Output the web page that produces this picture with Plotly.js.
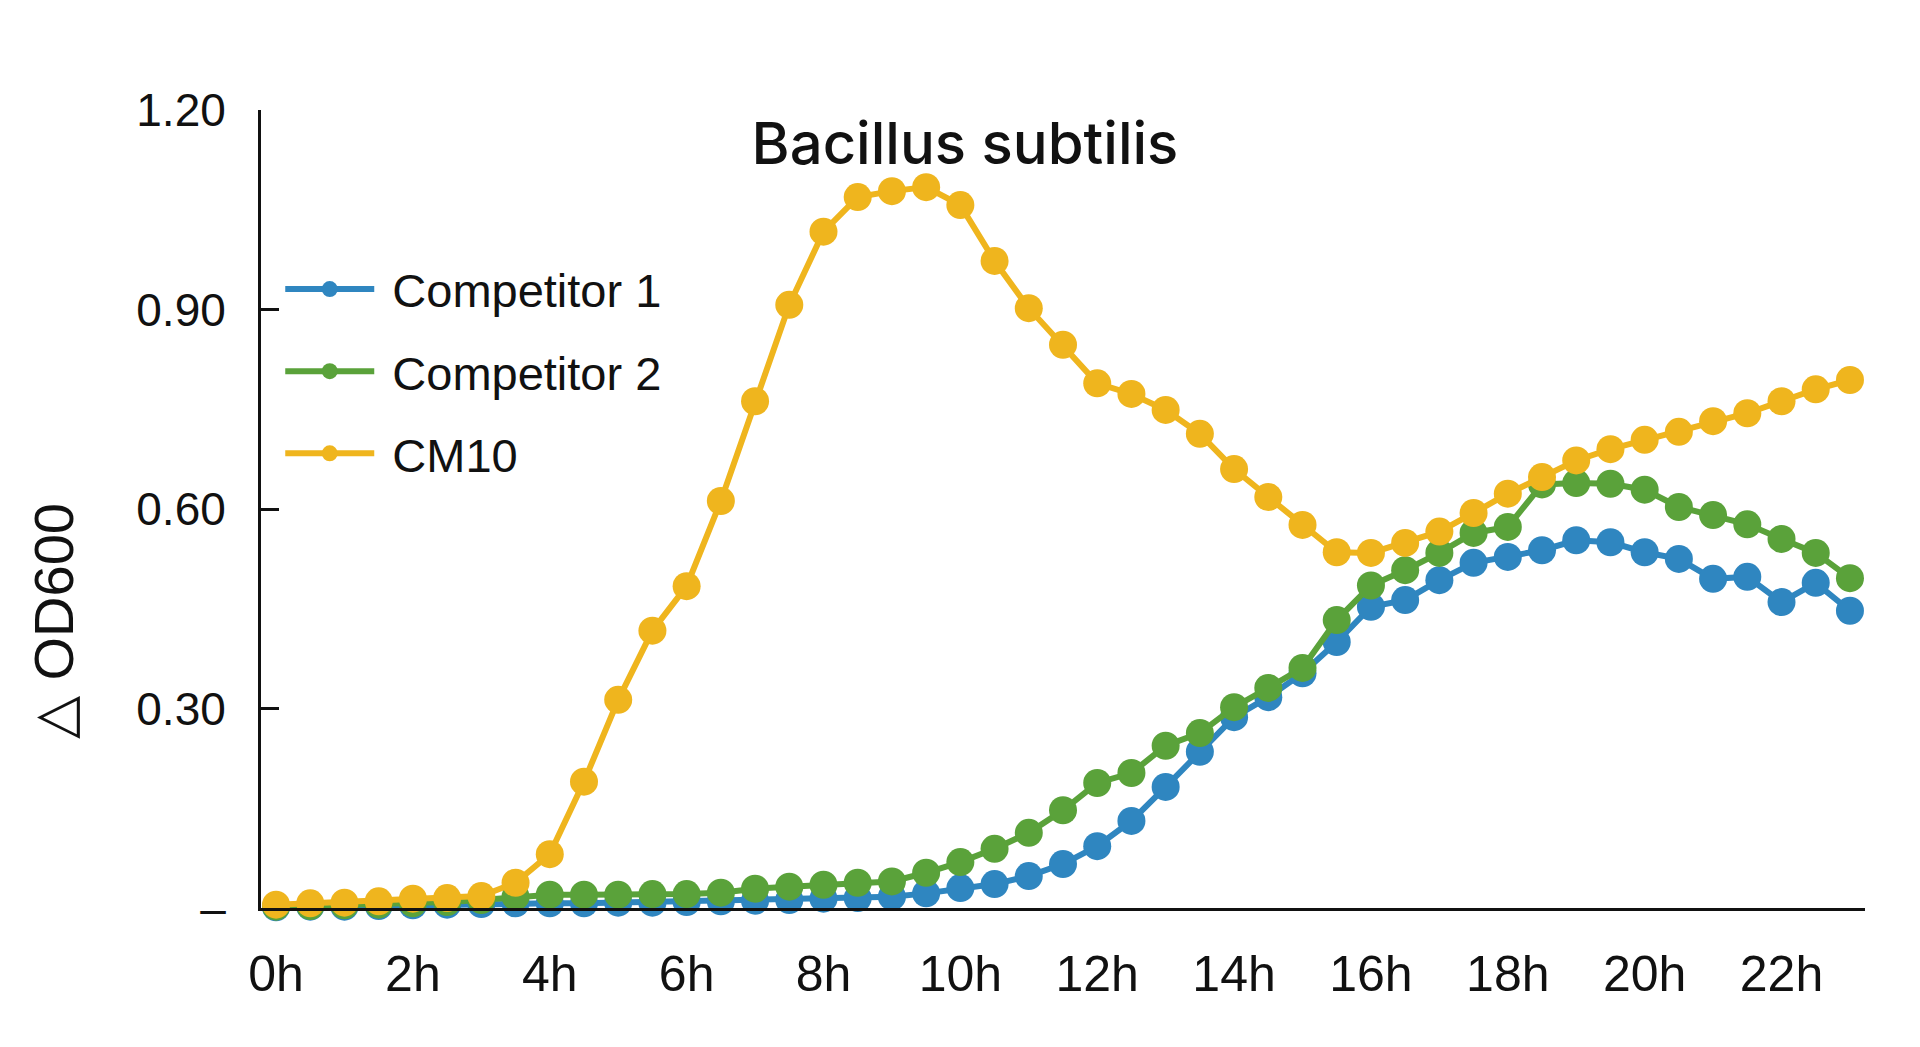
<!DOCTYPE html>
<html>
<head>
<meta charset="utf-8">
<script src="https://cdn.plot.ly/plotly-3.0.1.min.js"></script>
<style>
  html, body { margin: 0; padding: 0; background: #fff; }
  #mainPlot { width: 1920px; height: 1047px; }
</style>
</head>
<body>
<div id="mainPlot"></div>
<script>
MAINPLOT = document.getElementById('mainPlot');

// time points, every half hour
let hours = [0, 0.5, 1, 1.5, 2, 2.5, 3, 3.5, 4, 4.5, 5, 5.5, 6, 6.5, 7, 7.5, 8, 8.5, 9, 9.5,
    10, 10.5, 11, 11.5, 12, 12.5, 13, 13.5, 14, 14.5, 15, 15.5, 16, 16.5, 17, 17.5, 18, 18.5,
    19, 19.5, 20, 20.5, 21, 21.5, 22, 22.5, 23];

let competitor1 = [0.001, 0.002, 0.002, 0.003, 0.004, 0.005, 0.006, 0.007,
    0.007, 0.007, 0.008, 0.008, 0.009, 0.010, 0.011, 0.012, 0.014, 0.015,
    0.017, 0.022, 0.030, 0.036, 0.048, 0.066, 0.093, 0.131, 0.182, 0.235, 0.287, 0.317, 0.353, 0.400, 0.453,
    0.463, 0.493, 0.519, 0.528, 0.538, 0.553, 0.550, 0.535, 0.525, 0.495, 0.498, 0.460, 0.489, 0.447];

let competitor2 = [0.002, 0.003, 0.004, 0.005, 0.007, 0.009, 0.012, 0.017,
    0.020, 0.020, 0.020, 0.021, 0.021, 0.023, 0.029, 0.032, 0.035, 0.038,
    0.040, 0.053, 0.069, 0.089, 0.113, 0.147, 0.188, 0.203, 0.244, 0.263, 0.302, 0.331, 0.361, 0.433, 0.485,
    0.508, 0.534, 0.564, 0.573, 0.637, 0.639, 0.638, 0.629, 0.603, 0.591, 0.577, 0.555, 0.534, 0.496];

let cm10 = [0.005, 0.007, 0.008, 0.010, 0.014, 0.015, 0.018, 0.038,
    0.081, 0.190, 0.313, 0.417, 0.484, 0.612, 0.762, 0.907, 1.017, 1.069,
    1.078, 1.084, 1.057, 0.973, 0.902, 0.847, 0.789, 0.773, 0.749, 0.713, 0.660, 0.618, 0.576, 0.535, 0.534,
    0.549, 0.566, 0.594, 0.623, 0.648, 0.673, 0.690, 0.704, 0.716, 0.732, 0.744, 0.762, 0.780, 0.794];

let xTickVals = [0, 2, 4, 6, 8, 10, 12, 14, 16, 18, 20, 22];
let xTickText = ['0h', '2h', '4h', '6h', '8h', '10h', '12h', '14h', '16h', '18h', '20h', '22h'];
let yTickVals = [0, 0.3, 0.6, 0.9, 1.2];
let yTickText = ['–', '0.30', '0.60', '0.90', '1.20'];

let FONT = '"Liberation Sans", Arial, sans-serif';

function series(name, y, color) {
    return {
        x: hours,
        y: y,
        type: 'scatter',
        mode: 'lines+markers',
        name: '\u00a0' + name,  // small gap after the legend symbol
        legendgroup: name,
        line: { color: color, width: 6 },
        marker: { color: color, size: 28 },
        cliponaxis: false
    };
}

var data = [
    series('Competitor 1', competitor1, '#2f86c0'),
    series('Competitor 2', competitor2, '#5aa23a'),
    series('CM10', cm10, '#efb51e')
];

var layout = {
    width: 1920,
    height: 1047,
    margin: { l: 261, r: 55, t: 110, b: 139 },
    paper_bgcolor: '#fff',
    plot_bgcolor: '#fff',
    font: { family: FONT, color: '#111', size: 46 },
    title: {
        text: 'Bacillus subtilis',
        font: { family: 'Inter, "Liberation Sans", sans-serif', size: 58, weight: 500, color: '#111' },
        xref: 'container',
        x: 0.5026,
        xanchor: 'center',
        yref: 'container',
        y: 0.863,
        yanchor: 'middle'
    },
    xaxis: {
        range: [-0.22, 23.22],
        showline: true,
        linecolor: '#111',
        linewidth: 3,
        showgrid: false,
        zeroline: false,
        ticks: '',
        tickvals: xTickVals,
        ticktext: xTickText,
        tickfont: { family: FONT, size: 50, color: '#111' },
        ticklabelstandoff: 20,
        automargin: false
    },
    yaxis: {
        range: [0, 1.2],
        showline: true,
        linecolor: '#111',
        linewidth: 3,
        showgrid: false,
        zeroline: false,
        ticks: 'inside',
        ticklen: 18,
        tickwidth: 3,
        tickcolor: '#111',
        tickvals: yTickVals,
        ticktext: yTickText,
        tickfont: { family: FONT, size: 46, color: '#111' },
        ticklabelstandoff: 23,
        automargin: false
    },
    legend: {
        x: 0.012,
        xanchor: 'left',
        y: 0.822,
        yanchor: 'top',
        bgcolor: 'rgba(0,0,0,0)',
        font: { family: FONT, size: 47, color: '#111' },
        itemwidth: 89,
        tracegroupgap: 18
    },
    annotations: [{
        text: '△ OD600',
        xref: 'paper',
        yref: 'paper',
        x: -0.1297,
        y: 0.3596,
        xanchor: 'center',
        yanchor: 'middle',
        textangle: -90,
        showarrow: false,
        font: { family: FONT, size: 56, color: '#111' }
    }]
};

Plotly.newPlot(MAINPLOT, data, layout, { staticPlot: true });
</script>
</body>
</html>
